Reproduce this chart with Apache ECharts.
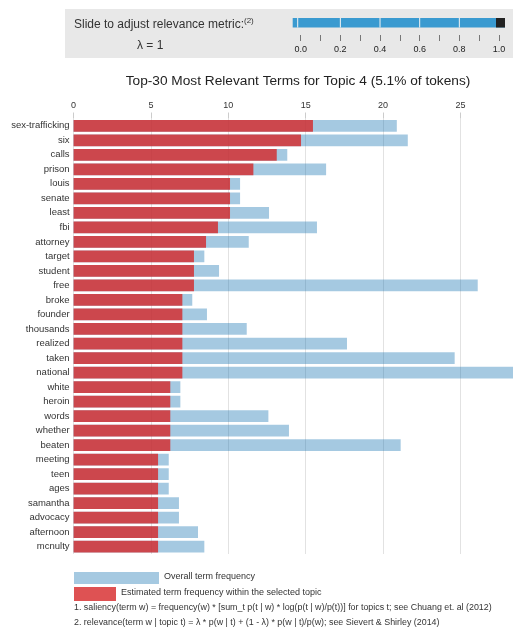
<!DOCTYPE html>
<html>
<head>
<meta charset="utf-8">
<script src="https://cdn.jsdelivr.net/npm/echarts@6/dist/echarts.min.js"></script>
<style>
  html, body { margin: 0; padding: 0; background: #fff; }
  #main { width: 513px; height: 630px; }
</style>
</head>
<body>
<div id="main"></div>
<script>
  // top-30 terms, top to bottom
  var terms = ['sex-trafficking', 'six', 'calls', 'prison', 'louis', 'senate', 'least', 'fbi',
    'attorney', 'target', 'student', 'free', 'broke', 'founder', 'thousands', 'realized',
    'taken', 'national', 'white', 'heroin', 'words', 'whether', 'beaten', 'meeting', 'teen',
    'ages', 'samantha', 'advocacy', 'afternoon', 'mcnulty'];
  // estimated term frequency within the topic (red)
  var topicFreq = [15.47, 14.7, 13.13, 11.62, 10.11, 10.11, 10.11, 9.33, 8.56, 7.78, 7.78, 7.78,
    7.03, 7.03, 7.03, 7.03, 7.03, 7.03, 6.25, 6.25, 6.25, 6.25, 6.25, 5.46, 5.46, 5.46, 5.46,
    5.46, 5.46, 5.46];
  // overall term frequency (blue)
  var totalFreq = [20.89, 21.6, 13.81, 16.32, 10.76, 10.76, 12.63, 15.73, 11.32, 8.45, 9.4, 26.12,
    7.67, 8.62, 11.19, 17.67, 24.63, 28.6, 6.9, 6.9, 12.59, 13.92, 21.14, 6.15, 6.15, 6.15, 6.81,
    6.81, 8.04, 8.45];
  var freqMax = 28.4;
  // relevance slider
  var lambdaTicks = [0, 0.2, 0.4, 0.6, 0.8, 1];
  var lambda = 1;

  var font = "'Liberation Sans', Arial, sans-serif";
  var chart = echarts.init(document.getElementById('main'), null, { renderer: 'canvas' });

  var option = {
    animation: false,
    textStyle: { fontFamily: font },
    grid: [
      { left: 73.6, right: 0, top: 118.5, height: 435.5 },
      { left: 300.7, width: 198.3, top: 34, height: 1 }
    ],
    xAxis: [
      {
        type: 'value', gridIndex: 0, position: 'top',
        min: 0, max: freqMax, interval: 5,
        axisLine: { show: false },
        axisTick: { show: true, length: 6, lineStyle: { color: '#ccc' } },
        axisLabel: { fontSize: 9, color: '#333', margin: 8, showMaxLabel: false, fontFamily: font },
        splitLine: { show: true, lineStyle: { color: '#e2e2e2', width: 1 } }
      },
      {
        type: 'value', gridIndex: 1, position: 'top',
        min: 0, max: 1, interval: 0.2,
        axisLine: { show: false },
        axisTick: { show: true, inside: true, length: 6, lineStyle: { color: '#777' } },
        minorTick: { show: true, splitNumber: 2, length: 6, lineStyle: { color: '#777' } },
        axisLabel: {
          inside: true, margin: 11, fontSize: 9, color: '#222', fontFamily: font,
          formatter: function (v) { return v.toFixed(1); }
        },
        splitLine: { show: false }
      }
    ],
    yAxis: [
      {
        type: 'category', gridIndex: 0, data: terms, inverse: true,
        axisLine: { show: false },
        axisTick: { show: false },
        axisLabel: { fontSize: 9.5, color: '#333', margin: 4, fontFamily: font }
      },
      { type: 'value', gridIndex: 1, show: false }
    ],
    series: [
      {
        name: 'Overall term frequency', type: 'bar',
        xAxisIndex: 0, yAxisIndex: 0,
        data: totalFreq, barCategoryGap: '19%', barGap: '-100%',
        itemStyle: { color: '#1f77b4', opacity: 0.4 }
      },
      {
        name: 'Estimated term frequency within the selected topic', type: 'bar',
        xAxisIndex: 0, yAxisIndex: 0,
        data: topicFreq, barCategoryGap: '19%', barGap: '-100%',
        itemStyle: { color: '#d62728', opacity: 0.8 }
      }
    ],
    graphic: [
      // header panel
      { type: 'rect', z: -10, shape: { x: 65, y: 9, width: 448, height: 49 }, style: { fill: '#e8e8e8' } },
      { type: 'text', style: { x: 74, y: 25, text: 'Slide to adjust relevance metric:', font: '12px ' + font, fill: '#333', verticalAlign: 'middle' } },
      { type: 'text', style: { x: 244, y: 21, text: '(2)', font: '8px ' + font, fill: '#333', verticalAlign: 'middle' } },
      { type: 'text', style: { x: 137, y: 46, text: 'λ = 1', font: '12px ' + font, fill: '#333', verticalAlign: 'middle' } },
      // title
      { type: 'text', style: { x: 298, y: 81, text: 'Top-30 Most Relevant Terms for Topic 4 (5.1% of tokens)', font: '13.7px ' + font, fill: '#222', align: 'center', verticalAlign: 'middle' } },
      // legend
      { type: 'rect', shape: { x: 74, y: 572, width: 85, height: 12 }, style: { fill: '#1f77b4', opacity: 0.4 } },
      { type: 'text', style: { x: 164, y: 577, text: 'Overall term frequency', font: '9px ' + font, fill: '#333', verticalAlign: 'middle' } },
      { type: 'rect', shape: { x: 74, y: 587, width: 42, height: 14 }, style: { fill: '#d62728', opacity: 0.8 } },
      { type: 'text', style: { x: 121, y: 593, text: 'Estimated term frequency within the selected topic', font: '9px ' + font, fill: '#333', verticalAlign: 'middle' } },
      // footnotes
      { type: 'text', style: { x: 74, y: 608, text: '1. saliency(term w) = frequency(w) * [sum_t p(t | w) * log(p(t | w)/p(t))] for topics t; see Chuang et. al (2012)', font: '8.9px ' + font, fill: '#333', verticalAlign: 'middle' } },
      { type: 'text', style: { x: 74, y: 623, text: '2. relevance(term w | topic t) = λ * p(w | t) + (1 - λ) * p(w | t)/p(w); see Sievert & Shirley (2014)', font: '8.9px ' + font, fill: '#333', verticalAlign: 'middle' } }
    ]
  };
  chart.setOption(option);

  // slider track, separators and handle, placed on the lambda axis
  var px = function (v) { return chart.convertToPixel({ xAxisIndex: 1 }, v); };
  var slider = [
    { type: 'rect', shape: { x: px(0) - 8, y: 18, width: px(1) - px(0) + 14, height: 9.5 }, style: { fill: '#3a9ad0' } }
  ];
  lambdaTicks.slice(0, -1).forEach(function (t) {
    var x = t === 0 ? px(t) - 3 : px(t);
    slider.push({ type: 'rect', shape: { x: x - 0.5, y: 18, width: 1, height: 9.5 }, style: { fill: '#f4f4f4' } });
  });
  slider.push({ type: 'rect', shape: { x: px(lambda) - 3, y: 18, width: 9, height: 9.5 }, style: { fill: '#222' } });
  chart.setOption({ graphic: option.graphic.concat(slider) });
</script>
</body>
</html>
